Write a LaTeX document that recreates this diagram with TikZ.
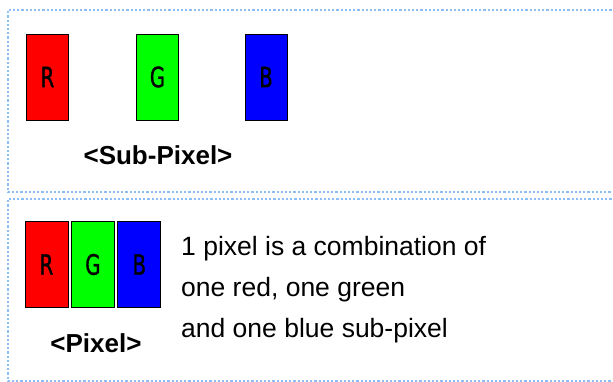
\documentclass[tikz,border=0pt]{standalone}
\usepackage{fontspec}
\setmainfont{Liberation Sans}
\newfontfamily\subfont[FakeStretch=0.7, FakeBold=1.2]{DejaVu Sans}
\usetikzlibrary{positioning}
\definecolor{frameblue}{RGB}{140,190,245}

\begin{document}
\begin{tikzpicture}[
  x=1pt, y=1pt,
  every node/.style={font=\fontsize{26.5}{41}\selectfont},
  frame/.style={draw=frameblue, line width=2.2pt, dotted},
  subpix/.style={draw=black, line width=0.9pt, minimum width=42pt,
                 minimum height=86pt, inner sep=0pt,
                 font=\subfont\fontsize{28}{28}\selectfont},
  caption/.style={font=\bfseries\fontsize{26}{26}\selectfont}
]
  \useasboundingbox (0,0) rectangle (613,-382);

  % dotted frames, open on the right
  \draw[frame] (620,-10) -- (8,-10) -- (8,-192) -- (620,-192);
  \draw[frame] (620,-199) -- (8,-199) -- (8,-381) -- (620,-381);

  % sub-pixels
  \node[subpix, fill=red]   (subr) at (47.5,-77) {R};
  \node[subpix, fill=green] (subg) at (157.5,-77) {G};
  \node[subpix, fill=blue]  (subb) at (266,-77) {B};
  \node[caption, anchor=base] (subcap) at (158,-165) {<Sub-Pixel>};

  % one pixel
  \node[subpix, fill=red, minimum width=43pt] (pixr) at (46.5,-264.5) {R};
  \node[subpix, fill=green, minimum width=43pt, right=2.5pt of pixr] (pixg) {G};
  \node[subpix, fill=blue, minimum width=43pt, right=2.5pt of pixg]  (pixb) {B};
  \node[caption, anchor=base] (pixcap) at (96,-352) {<Pixel>};

  \node[anchor=base west, align=left, inner sep=0pt] (desc) at (181,-337)
    {1 pixel is a combination of\\one red, one green\\and one blue sub-pixel};
\end{tikzpicture}
\end{document}
